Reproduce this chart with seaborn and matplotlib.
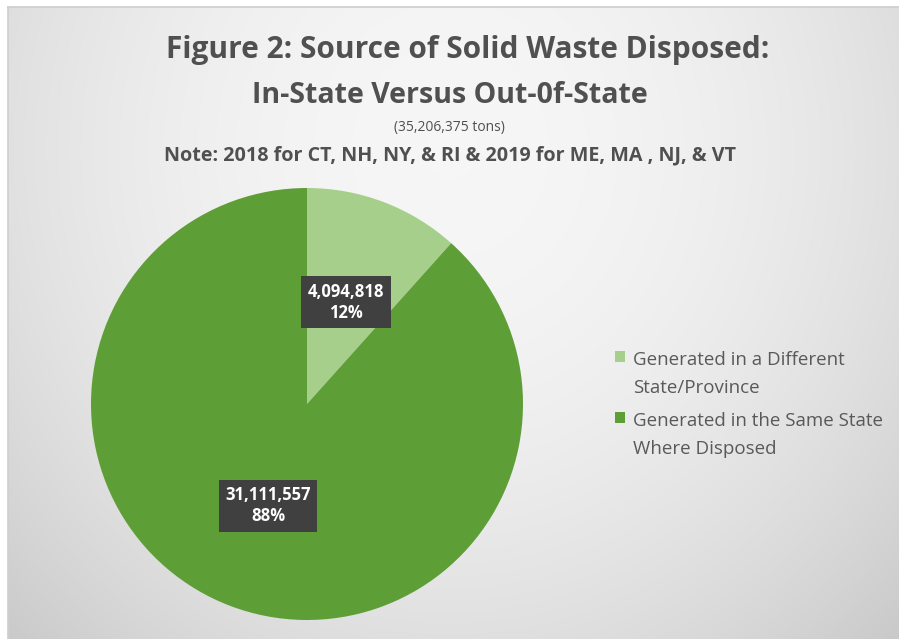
import numpy as np
import matplotlib
matplotlib.use("Agg")
import matplotlib.pyplot as plt
import seaborn as sns
from matplotlib.patches import Patch, Rectangle
from matplotlib.legend_handler import HandlerPatch

categories = ["Generated in a Different\nState/Province",
              "Generated in the Same State\nWhere Disposed"]
values = [4094818, 31111557]
value_labels = ["4,094,818", "31,111,557"]
colors = ["#a6cf8b", "#5e9e37"]
title_lines = ["Figure 2: Source of Solid Waste Disposed:", "In-State Versus Out-0f-State"]
subtitle = "(35,206,375 tons)"
note = "Note: 2018 for CT, NH, NY, & RI & 2019 for ME, MA , NJ, & VT"

sns.set_theme(style="white")
plt.rcParams["font.family"] = ["Open Sans", "DejaVu Sans"]

W, H = 899, 639
fig = plt.figure(figsize=(W / 100, H / 100), dpi=100)
fig.patch.set_facecolor("white")

# background radial gradient (chart area)
x0, y0 = 8, 7
bg = fig.add_axes([x0 / W, 0, (W - x0) / W, (H - y0) / H])
py, px = np.mgrid[y0:H, x0:W].astype(float)
r = np.sqrt(((px - 450) / 480) ** 2 + ((py - 150) / 520) ** 2)
g = np.clip(0.965 - 0.1 * r ** 2.0, 0.77, 0.97)
bg.imshow(np.dstack([g, g, g]), aspect="auto", extent=[0, 1, 0, 1], origin="upper")
bg.set_xlim(0, 1)
bg.set_ylim(0, 1)
bg.set_xticks([])
bg.set_yticks([])
for s in bg.spines.values():
    s.set_visible(False)
bg.spines["top"].set_visible(True)
bg.spines["left"].set_visible(True)
bg.spines["top"].set_color("#cfcfcf")
bg.spines["left"].set_color("#cfcfcf")

# pie axes
cxp, cyp, R = 307, 404, 216
ax = fig.add_axes([(cxp - R) / W, (H - cyp - R) / H, 2 * R / W, 2 * R / H])
ax.set_facecolor("none")

it = iter(range(len(values)))


def fmt(pct):
    i = next(it)
    return f"{value_labels[i]}\n{pct:.0f}%"


wedges, texts, autotexts = ax.pie(values, colors=colors, startangle=90, counterclock=False,
                                  autopct=fmt, pctdistance=0.505, radius=1,
                                  wedgeprops=dict(linewidth=0))
for t in autotexts:
    t.set_color("white")
    t.set_fontsize(12)
    t.set_fontweight("bold")
    t.set_linespacing(1.2)
    t.set_bbox(dict(boxstyle="square,pad=0.38", facecolor="#404040", edgecolor="none"))
ax.set_xlim(-1, 1)
ax.set_ylim(-1, 1)
ax.set_aspect("equal")
ax.axis("off")

# legend (square aligned with first text line)
LS = 1.73


def top_square(legend, orig_handle, xdescent, ydescent, width, height, fontsize):
    return Rectangle((-xdescent, -ydescent + fontsize * 0.955), width, height)


handles = [Patch(facecolor=c, edgecolor="none", label=l) for c, l in zip(colors, categories)]
leg = fig.legend(handles=handles, loc="upper left", bbox_to_anchor=(598 / W, 1 - 334 / H),
                 frameon=False, fontsize=13.5, handlelength=0.55, handleheight=0.55,
                 handletextpad=0.4, labelspacing=0.78, labelcolor="#595959",
                 handler_map={Patch: HandlerPatch(patch_func=top_square)})
for t in leg.get_texts():
    t.set_linespacing(LS)

# titles
tc = "#505050"
fig.text(468 / W, 1 - 58 / H, title_lines[0], ha="center", va="baseline", fontsize=21.5,
         fontweight="bold", color=tc)
fig.text(0.5, 1 - 103 / H, title_lines[1], ha="center", va="baseline", fontsize=20.5,
         fontweight="bold", color=tc)
fig.text(0.5, 1 - 128 / H, subtitle, ha="center", va="center", fontsize=10,
         color=tc)
fig.text(0.5, 1 - 160 / H, note, ha="center", va="baseline", fontsize=14.2,
         fontweight="bold", color=tc)

fig.savefig("out.png", dpi=100)
